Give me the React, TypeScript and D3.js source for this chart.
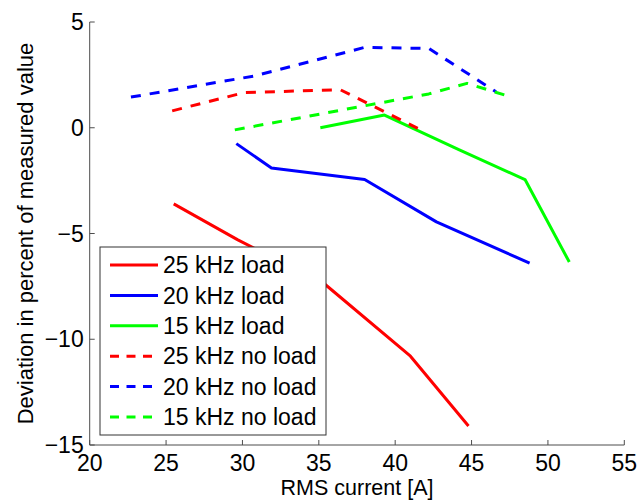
import React from 'react';
import * as d3 from 'd3';

// RMS current [A] / deviation [%] per series
const load25X = [25.5, 29.7, 35.4, 41.0, 44.8];
const load25Y = [-3.6, -5.3, -7.4, -10.8, -14.1];
const load20X = [29.6, 31.9, 38.0, 42.7, 48.8];
const load20Y = [-0.75, -1.9, -2.45, -4.45, -6.4];
const load15X = [35.1, 39.3, 44.2, 48.5, 51.4];
const load15Y = [0.0, 0.6, -1.05, -2.45, -6.35];
const noLoad25X = [25.4, 30.1, 36.4, 41.9];
const noLoad25Y = [0.8, 1.66, 1.8, -0.18];
const noLoad20X = [22.7, 30.8, 38.0, 42.2, 46.6];
const noLoad20Y = [1.45, 2.45, 3.8, 3.75, 1.7];
const noLoad15X = [29.5, 42.2, 44.7, 47.6];
const noLoad15Y = [-0.1, 1.6, 2.1, 1.45];

const xTicks = [20, 25, 30, 35, 40, 45, 50, 55];
const yTicks = [5, 0, -5, -10, -15];

const series = [
  { name: '25 kHz load', xs: load25X, ys: load25Y, color: '#ff0000', dashed: false },
  { name: '20 kHz load', xs: load20X, ys: load20Y, color: '#0000ff', dashed: false },
  { name: '15 kHz load', xs: load15X, ys: load15Y, color: '#00ff00', dashed: false },
  { name: '25 kHz no load', xs: noLoad25X, ys: noLoad25Y, color: '#ff0000', dashed: true },
  { name: '20 kHz no load', xs: noLoad20X, ys: noLoad20Y, color: '#0000ff', dashed: true },
  { name: '15 kHz no load', xs: noLoad15X, ys: noLoad15Y, color: '#00ff00', dashed: true },
];

const W = 638;
const H = 501;
const left = 89.7;
const right = 624.3;
const top = 22;
const bottom = 445;
const font = '"Liberation Sans", Arial, sans-serif';
const axisColor = '#4d4d4d';
const fs = 23;

const fmt = (t: number) => (t < 0 ? '\u2212' + Math.abs(t) : String(t));

const App = () => {
  const x = d3.scaleLinear().domain([20, 55]).range([left, right]);
  const y = d3.scaleLinear().domain([-15, 5]).range([bottom, top]);

  const line = d3.line<[number, number]>()
    .x(d => x(d[0]))
    .y(d => y(d[1]));

  const legX = 100;
  const legY = 247;
  const legW = 226;
  const legH = 188;
  const rowH = 30.4;

  return (
    <svg width={W} height={H} style={{ position: 'absolute', left: 0, top: 0, background: '#fff' }}
      fontFamily={font}>
      <rect x={0} y={0} width={W} height={H} fill="#fff" />

      {/* data lines */}
      {series.map(s => (
        <path
          key={s.name}
          d={line(s.xs.map((v, i) => [v, s.ys[i]] as [number, number])) || ''}
          fill="none"
          stroke={s.color}
          strokeWidth={3}
          strokeDasharray={s.dashed ? '10,9' : undefined}
          strokeLinejoin="round"
        />
      ))}

      {/* axes */}
      <line x1={left} x2={left} y1={top} y2={bottom} stroke={axisColor} strokeWidth={1} />
      <line x1={left} x2={right} y1={bottom} y2={bottom} stroke={axisColor} strokeWidth={1} />
      {xTicks.map(t => (
        <g key={'x' + t}>
          <line x1={x(t)} x2={x(t)} y1={bottom} y2={bottom - 5} stroke={axisColor} />
          <text x={x(t)} y={bottom + 25.5} textAnchor="middle" fontSize={fs} fill="#000">
            {fmt(t)}
          </text>
        </g>
      ))}
      {yTicks.map(t => (
        <g key={'y' + t}>
          <line x1={left} x2={left + 5} y1={y(t)} y2={y(t)} stroke={axisColor} />
          <text x={left - 6} y={y(t) + 8.2} textAnchor="end" fontSize={fs} fill="#000">
            {fmt(t)}
          </text>
        </g>
      ))}

      <text x={(left + right) / 2} y={495} textAnchor="middle" fontSize={21.5} fill="#000">
        RMS current [A]
      </text>
      <text transform={`translate(33,${(top + bottom) / 2}) rotate(-90)`} textAnchor="middle"
        fontSize={22} fill="#000">
        Deviation in percent of measured value
      </text>

      {/* legend */}
      <rect x={legX} y={legY} width={legW} height={legH} fill="#fff" stroke="#333" strokeWidth={1} />
      {series.map((s, i) => {
        const cy = legY + 18 + i * rowH;
        return (
          <g key={'leg' + s.name}>
            <line x1={legX + 10} x2={legX + 58} y1={cy} y2={cy} stroke={s.color} strokeWidth={3}
              strokeDasharray={s.dashed ? '9,7.5' : undefined} />
            <text x={legX + 63} y={cy + 8.2} fontSize={fs} fill="#000">{s.name}</text>
          </g>
        );
      })}
    </svg>
  );
};

export default App;
